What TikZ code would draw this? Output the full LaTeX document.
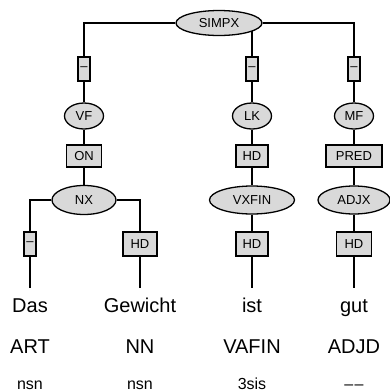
\documentclass[tikz,border=0pt]{standalone}
\usepackage{fontspec}
\setmainfont{Liberation Sans}
\usetikzlibrary{shapes.geometric,backgrounds}
\definecolor{nodegray}{HTML}{D9D9D9}
\begin{document}
\begin{tikzpicture}[x=1pt,y=-1pt,
  every node/.style={font=\fontsize{13}{15}\selectfont},
  cat/.style={ellipse,draw,fill=nodegray,line width=1.3pt,inner sep=0pt},
  fun/.style={rectangle,draw,fill=nodegray,line width=1.3pt,inner sep=0pt},
  edge/.style={line width=1.3pt},
  word/.style={font=\fontsize{20}{24}\selectfont,text height=14pt,text depth=4pt,inner ysep=10pt,inner xsep=0pt,anchor=base},
  tag/.style={font=\fontsize{20}{24}\selectfont,inner sep=0pt,anchor=base},
  morph/.style={font=\fontsize{16}{19}\selectfont,inner sep=0pt,anchor=base}]
\useasboundingbox (0,0) rectangle (390,392);
% top level
\node[cat,minimum width=86pt,minimum height=25pt] (simpx) at (219,23) {SIMPX};
\node[fun,minimum width=12pt,minimum height=24pt] (d1) at (84,69) {–};
\node[fun,minimum width=12pt,minimum height=24pt] (d2) at (252,69) {–};
\node[fun,minimum width=12pt,minimum height=24pt] (d3) at (354,69) {–};
% fields
\node[cat,minimum width=39pt,minimum height=26pt] (vf) at (84,116) {VF};
\node[cat,minimum width=39pt,minimum height=26pt] (lk) at (252,116) {LK};
\node[cat,minimum width=39pt,minimum height=26pt] (mf) at (354,116) {MF};
\node[fun,minimum width=35pt,minimum height=22pt] (on) at (84,156) {ON};
\node[fun,minimum width=32pt,minimum height=22pt] (hdlk) at (252,156) {HD};
\node[fun,minimum width=56pt,minimum height=22pt] (pred) at (354,156) {PRED};
% phrases
\node[cat,minimum width=64pt,minimum height=29pt] (nx) at (84,200) {NX};
\node[cat,minimum width=85pt,minimum height=28pt] (vxfin) at (252,200) {VXFIN};
\node[cat,minimum width=72pt,minimum height=28pt] (adjx) at (354,200) {ADJX};
% lower functions
\node[fun,minimum width=12pt,minimum height=24pt] (d4) at (30,244) {–};
\node[fun,minimum width=34pt,minimum height=24pt] (hdnx) at (140,244) {HD};
\node[fun,minimum width=32pt,minimum height=24pt] (hdvx) at (252,244) {HD};
\node[fun,minimum width=35pt,minimum height=24pt] (hdadj) at (354,244) {HD};
% words
\node[word] (w1) at (30,312) {Das};
\node[word] (w2) at (140,312) {Gewicht};
\node[word] (w3) at (252,312) {ist};
\node[word] (w4) at (354,312) {gut};
% tags
\node[tag] (t1) at (30,353) {ART};
\node[tag] (t2) at (140,353) {NN};
\node[tag] (t3) at (252,353) {VAFIN};
\node[tag] (t4) at (354,353) {ADJD};
% morphology
\node[morph] (m1) at (30,389) {nsn};
\node[morph] (m2) at (140,389) {nsn};
\node[morph] (m3) at (252,389) {3sis};
\node[morph] (m4) at (354,389) {–\kern1.5pt–};
% connectors
\begin{scope}[on background layer]
\draw[edge] (simpx) -| (d1);
\draw[edge] (simpx) -| (d3);
\draw[edge] (d2) -- (d2 |- simpx.center);
\draw[edge] (d1) -- (vf);
\draw[edge] (d2) -- (lk);
\draw[edge] (d3) -- (mf);
\draw[edge] (vf) -- (on);
\draw[edge] (lk) -- (hdlk);
\draw[edge] (mf) -- (pred);
\draw[edge] (on) -- (nx);
\draw[edge] (hdlk) -- (vxfin);
\draw[edge] (pred) -- (adjx);
\draw[edge] (nx) -| (d4);
\draw[edge] (nx) -| (hdnx);
\draw[edge] (vxfin) -- (hdvx);
\draw[edge] (adjx) -- (hdadj);
\draw[edge] (d4) -- (w1);
\draw[edge] (hdnx) -- (w2);
\draw[edge] (hdvx) -- (w3);
\draw[edge] (hdadj) -- (w4);
\end{scope}
\end{tikzpicture}
\end{document}
